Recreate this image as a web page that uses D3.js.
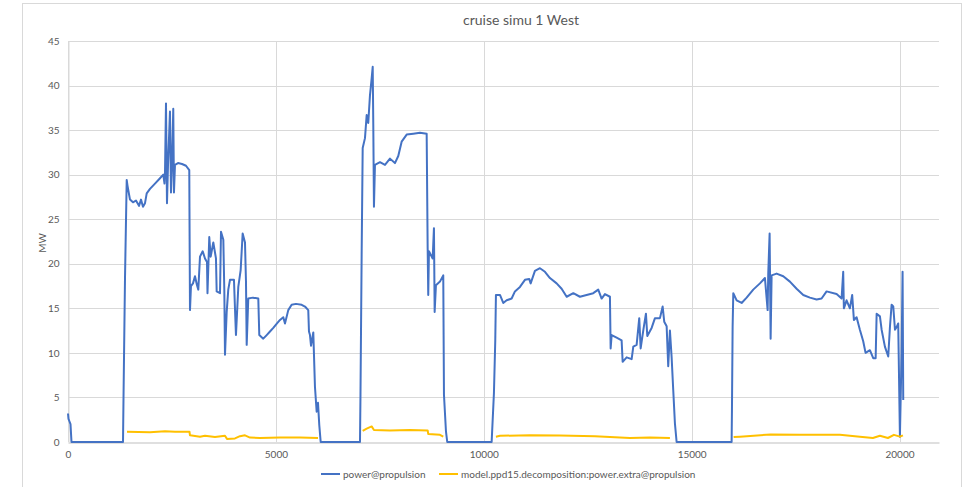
<!DOCTYPE html>
<html>
<head>
<meta charset="utf-8">
<script src="https://cdn.jsdelivr.net/npm/d3@7"></script>
<style>
    body { margin: 0; background: #fff; }
    text { font-family: Lato, "Open Sans", sans-serif; fill: #595959; }
</style>
</head>
<body>
<div id="my_dataviz"></div>
<script>
// power@propulsion (x = sample index, y = MW)
var powerX = [0, 12, 36, 60, 84, 1323, 1335, 1371, 1412, 1430, 1491, 1563, 1635, 1708, 1756, 1804, 1852, 1893, 1972, 2092, 2213, 2292, 2321, 2333, 2357, 2381, 2405, 2453, 2477, 2501, 2532, 2549, 2573, 2646, 2742, 2838, 2917,
    2934, 2958, 3006, 3054, 3103, 3134, 3175, 3240, 3295, 3343, 3355, 3398, 3432, 3495, 3559, 3576, 3656, 3680, 3736, 3760, 3776, 3817, 3855, 3896, 3992, 4016, 4040, 4096, 4153, 4201, 4257, 4281, 4298, 4336, 4449, 4577, 4601, 4697, 4779, 4858, 4938, 5027, 5099, 5178, 5219, 5298, 5379, 5483, 5620, 5700, 5779, 5796, 5820, 5845, 5900, 5940, 5981, 6013, 6044, 6078,
    7023, 7035, 7063, 7088, 7143, 7184, 7222, 7263, 7304, 7329, 7343, 7359, 7383, 7504, 7624, 7744, 7864, 7944, 8025, 8146, 8305, 8466, 8627, 8651, 8665, 8682, 8771, 8802, 8819, 8850, 8947, 9026, 9043, 9091, 9122,
    10190, 10245, 10277, 10293, 10390, 10469, 10551, 10671, 10750, 10871, 10991, 11094, 11128, 11231, 11352, 11472, 11592, 11753, 11873, 11994, 12154, 12313, 12474, 12634, 12754, 12835, 12915, 13035, 13052, 13076, 13196, 13316, 13341, 13437, 13557, 13597, 13677, 13740, 13774, 13840, 13901, 13934, 14038, 14118, 14238, 14303, 14341, 14399, 14437, 14478, 14519, 14558, 14598, 14639,
    15962, 15970, 15986, 16002, 16083, 16203, 16323, 16482, 16643, 16763, 16828, 16843, 16876, 16900, 16924, 17044, 17204, 17364, 17525, 17685, 17845, 18006, 18126, 18246, 18487, 18607, 18646, 18662, 18727, 18807, 18862, 18903, 18968, 19047, 19127, 19184, 19288, 19368, 19426, 19450, 19529, 19570, 19649, 19729, 19770, 19810, 19850, 19891, 19931, 19969, 20010, 20050, 20074, 20090];
var powerY = [3.2, 2.6, 2.3, 2.0, 0, 0, 4.9, 18.4, 29.4, 28.8, 27.2, 26.9, 27.1, 26.5, 27.2, 26.4, 26.8, 27.9, 28.4, 29.0, 29.6, 30.0, 29.0, 30.2, 38.0, 26.8, 31.0, 37.1, 28.0, 31.0, 37.4, 28.0, 31.1, 31.3, 31.2, 31.0, 30.5,
    14.8, 17.5, 17.8, 18.6, 17.6, 17.1, 20.8, 21.4, 20.6, 20.2, 16.7, 23.0, 20.8, 22.4, 20.6, 16.9, 16.7, 23.6, 22.7, 17.0, 9.8, 14.6, 17.1, 18.2, 18.2, 15.0, 12.0, 17.4, 19.3, 23.4, 22.4, 18.0, 10.9, 16.1, 16.2, 16.1, 12.0, 11.6, 12.0, 12.4, 12.8, 13.3, 13.7, 14.0, 13.3, 14.8, 15.4, 15.5, 15.4, 15.2, 14.8, 12.4, 12.0, 10.8, 12.3, 6.2, 3.4, 4.4, 1.9, 0,
    0, 5.3, 21.0, 33.0, 34.1, 36.7, 35.8, 38.9, 40.8, 42.1, 35.6, 26.4, 31.1, 31.4, 31.1, 31.8, 31.3, 32.1, 33.7, 34.5, 34.6, 34.7, 34.6, 21.7, 16.5, 21.4, 20.6, 24.0, 14.6, 17.6, 18.0, 18.7, 5.3, 1.2, 0,
    0, 5.5, 11.4, 16.5, 16.5, 15.6, 15.9, 16.1, 16.9, 17.4, 18.2, 18.3, 17.8, 19.2, 19.5, 19.1, 18.4, 17.8, 17.2, 16.3, 16.7, 16.3, 16.5, 16.7, 17.1, 16.1, 16.6, 16.3, 10.5, 12.0, 11.7, 11.4, 9.0, 9.5, 9.3, 10.7, 10.9, 13.9, 10.5, 12.6, 14.4, 11.9, 12.8, 13.9, 13.9, 15.2, 13.5, 13.0, 8.5, 12.5, 9.5, 5.8, 2.1, 0,
    0, 3.6, 12.9, 16.7, 15.9, 15.6, 16.2, 17.1, 17.8, 18.4, 14.8, 18.9, 23.4, 11.6, 18.7, 18.9, 18.6, 18.0, 17.2, 16.5, 16.2, 16.0, 16.1, 16.9, 16.6, 16.1, 19.1, 15.0, 15.9, 15.0, 16.5, 13.7, 14.0, 12.6, 11.3, 10.0, 10.3, 9.4, 9.4, 14.4, 14.1, 12.6, 10.7, 9.6, 12.9, 15.4, 15.2, 12.6, 12.9, 13.3, 0.6, 10.0, 19.1, 4.7];

// model.ppd15.decomposition:power.extra@propulsion (null = not recorded)
var extraX = [1419, 1972, 2333, 2573, 2922, 2934, 3175, 3295, 3535, 3776, 3824, 4016, 4136, 4257, 4377, 4618, 5099, 5580, 6013, 6050,
    7088, 7184, 7304, 7359, 7744, 8225, 8651, 8665, 8947, 9026, 9060,
    10293, 10390, 11112, 11833, 12674, 13035, 13517, 13998, 14478, 14520,
    16010, 16162, 16900, 17605, 18567, 19047, 19360, 19529, 19721, 19866, 20010, 20082];
var extraY = [1.15, 1.1, 1.2, 1.15, 1.15, 0.75, 0.6, 0.7, 0.55, 0.7, 0.35, 0.4, 0.65, 0.75, 0.5, 0.45, 0.5, 0.5, 0.45, null,
    1.25, 1.5, 1.75, 1.35, 1.3, 1.35, 1.3, 0.9, 0.8, 0.6, null,
    0.6, 0.7, 0.75, 0.72, 0.65, 0.55, 0.45, 0.5, 0.45, null,
    0.55, 0.6, 0.85, 0.8, 0.8, 0.6, 0.45, 0.7, 0.45, 0.8, 0.6, 0.75];

var xTicks = [0, 5000, 10000, 15000, 20000];
var yTicks = [0, 5, 10, 15, 20, 25, 30, 35, 40, 45];
var seriesNames = ["power@propulsion", "model.ppd15.decomposition:power.extra@propulsion"];
var seriesColors = ["#4472C4", "#FFC000"];

var width = 969,
    height = 487;

var svg = d3.select("#my_dataviz").append("svg")
    .attr("width", width)
    .attr("height", height);

// chart frame
svg.append("rect")
    .attr("x", 22.5).attr("y", 3.5)
    .attr("width", 939).attr("height", 490)
    .attr("fill", "none").attr("stroke", "#d9d9d9");

var x = d3.scaleLinear().domain([0, 20950]).range([68, 939]);
var y = d3.scaleLinear().domain([0, 45]).range([442, 41]);

// gridlines
svg.append("g").selectAll("line").data(yTicks.slice(1)).enter().append("line")
    .attr("x1", x(0)).attr("x2", x(20950))
    .attr("y1", function (d) { return Math.round(y(d)) + 0.5; })
    .attr("y2", function (d) { return Math.round(y(d)) + 0.5; })
    .attr("stroke", "#d9d9d9");
svg.append("g").selectAll("line").data(xTicks).enter().append("line")
    .attr("x1", function (d) { return Math.round(x(d)) + 0.5; })
    .attr("x2", function (d) { return Math.round(x(d)) + 0.5; })
    .attr("y1", y(0)).attr("y2", y(45))
    .attr("stroke", "#d9d9d9");

// axes
var xAxis = svg.append("g")
    .attr("transform", "translate(0," + (Math.round(y(0)) + 0.5) + ")")
    .call(d3.axisBottom(x).tickValues(xTicks).tickSize(0).tickPadding(8).tickFormat(d3.format("d")));
xAxis.select(".domain").attr("stroke", "#bfbfbf");
xAxis.selectAll("text").style("font-size", "10px").attr("fill", "#595959");

var yAxis = svg.append("g")
    .attr("transform", "translate(" + (Math.round(x(0)) + 0.5) + ",0)")
    .call(d3.axisLeft(y).tickValues(yTicks).tickSize(0).tickPadding(9));
yAxis.select(".domain").attr("stroke", "#d9d9d9");
yAxis.selectAll("text").style("font-size", "10px").attr("fill", "#595959");

// series
var powerData = powerX.map(function (d, i) { return [d, powerY[i]]; });
var extraData = extraX.map(function (d, i) { return [d, extraY[i]]; });

var line = d3.line()
    .defined(function (d) { return d[1] !== null; })
    .x(function (d) { return x(d[0]); })
    .y(function (d) { return y(d[1]); });

svg.append("path").datum(powerData)
    .attr("d", line)
    .attr("fill", "none")
    .attr("stroke", seriesColors[0])
    .attr("stroke-width", 2)
    .attr("stroke-linejoin", "round");

svg.append("path").datum(extraData)
    .attr("d", line)
    .attr("fill", "none")
    .attr("stroke", seriesColors[1])
    .attr("stroke-width", 2)
    .attr("stroke-linejoin", "round");

// title and axis title
svg.append("text")
    .attr("x", 521).attr("y", 25)
    .attr("text-anchor", "middle")
    .style("font-size", "14px")
    .text("cruise simu 1 West");

svg.append("text")
    .attr("transform", "translate(46,243) rotate(-90)")
    .attr("text-anchor", "middle")
    .style("font-size", "10px")
    .text("MW");

// legend
var legendX = [321, 439];
var legend = svg.append("g").selectAll("g").data(seriesNames).enter().append("g")
    .attr("transform", function (d, i) { return "translate(" + legendX[i] + ",474)"; });
legend.append("line")
    .attr("x1", 0).attr("x2", 19)
    .attr("stroke", function (d, i) { return seriesColors[i]; })
    .attr("stroke-width", 2);
legend.append("text")
    .attr("x", 22).attr("dy", "0.35em")
    .style("font-size", "10px")
    .text(function (d) { return d; });
</script>
</body>
</html>
